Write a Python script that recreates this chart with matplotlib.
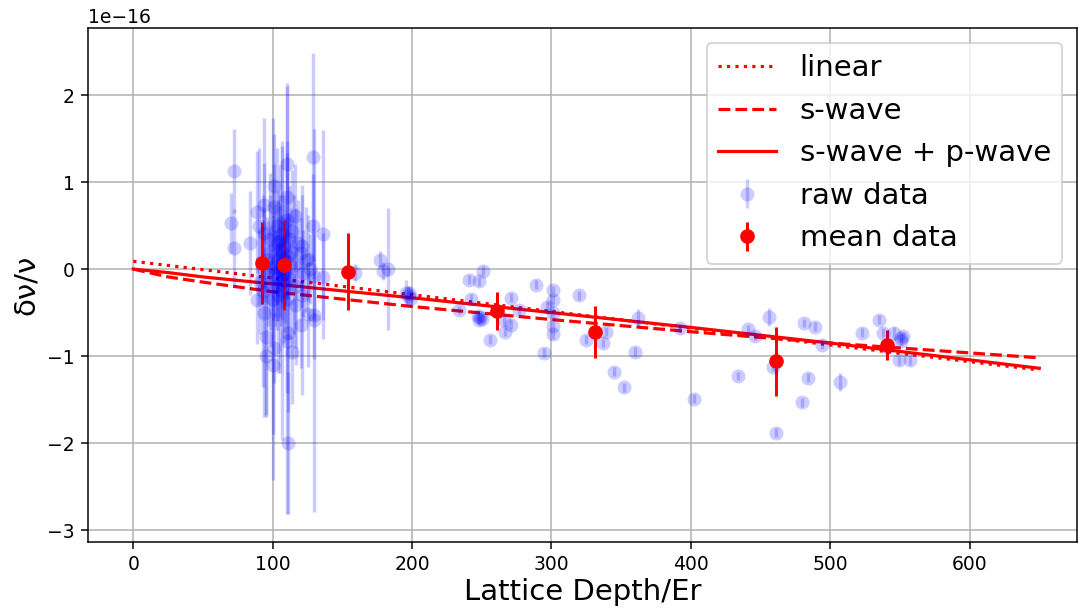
import numpy as np
import matplotlib
matplotlib.use("Agg")
import matplotlib.pyplot as plt

# raw measurements: (lattice depth / Er, shift in 1e-16, error in 1e-16)
raw_cluster = [
    (70, 0.53, 0.35), (72, 1.13, 0.48), (72, 0.24, 0.45), (84, 0.30, 0.6),
    (89, 0.66, 0.7), (89, -0.36, 0.5), (90, 0.49, 0.9), (91, -0.15, 0.6),
    (93, -0.25, 1.1), (94, 0.74, 1.0), (94, 0.42, 0.8), (94, -0.50, 1.2),
    (95, -0.78, 0.9), (95, -1.00, 0.7), (96, 0.10, 0.5), (97, -0.05, 0.6),
    (98, 0.20, 0.9), (99, -0.20, 0.7), (100, -0.34, 2.08), (100, -1.10, 0.8),
    (101, 0.95, 0.6), (101, 0.71, 0.5), (101, -0.91, 0.4), (102, 0.05, 0.7),
    (103, 0.49, 0.9), (103, -0.10, 0.5), (104, 0.30, 0.6), (104, -0.30, 0.9),
    (105, 0.15, 0.7), (105, 0.00, 1.2), (106, -0.15, 0.5), (107, 0.42, 1.0),
    (107, -0.25, 1.72), (108, 0.25, 0.6), (108, -0.05, 0.8), (109, 0.10, 0.5),
    (110, 1.21, 0.9), (110, 0.83, 0.5), (110, 0.57, 0.9), (110, -0.34, 2.48),
    (110, -0.83, 0.6), (111, -0.74, 0.9), (111, -2.00, 0.82), (112, 0.35, 0.6),
    (112, -0.10, 0.7), (113, 0.20, 0.5), (114, 0.44, 0.7), (114, -0.95, 0.6),
    (115, 0.05, 0.8), (116, 0.61, 0.6), (116, -0.41, 0.5), (117, -0.20, 0.9),
    (118, 0.30, 0.5), (120, 0.19, 0.4), (120, -0.64, 0.5), (121, 0.27, 0.7),
    (121, -0.30, 1.15), (122, -0.05, 0.5), (124, 0.11, 0.6), (125, 0.12, 0.5),
    (125, -0.52, 0.6), (127, 0.00, 0.4), (129, 1.29, 1.2), (129, 0.49, 0.6),
    (130, -0.59, 2.2), (130, -0.53, 0.5), (130, -0.08, 0.5), (136, 0.40, 1.2),
    (136, -0.09, 0.5), (100, 0.02, 0.6), (102, -0.05, 0.5), (104, 0.10, 0.7),
    (106, 0.22, 0.4), (108, -0.12, 0.6), (103, -0.20, 0.5), (105, 0.32, 0.4),
    (107, 0.05, 0.5), (109, -0.02, 0.6), (111, 0.15, 0.5), (98, 0.35, 0.5),
]
raw_tail = [
    (159, -0.04, 0.1), (177, 0.11, 0.1), (179, -0.02, 0.1), (183, 0.00, 0.7),
    (196, -0.27, 0.14), (197, -0.31, 0.1), (198, -0.28, 0.08), (199, -0.33, 0.1),
    (234, -0.47, 0.05), (241, -0.12, 0.05), (242, -0.34, 0.05), (247, -0.54, 0.05),
    (248, -0.14, 0.05), (248, -0.59, 0.05), (249, -0.55, 0.06), (250, -0.57, 0.05),
    (251, -0.02, 0.05), (256, -0.81, 0.05), (266, -0.59, 0.05), (267, -0.72, 0.05),
    (271, -0.64, 0.05), (271, -0.33, 0.05), (277, -0.47, 0.05), (289, -0.18, 0.05),
    (295, -0.96, 0.05), (297, -0.43, 0.05), (301, -0.24, 0.05), (301, -0.35, 0.05),
    (301, -0.51, 0.05), (301, -0.65, 0.05), (301, -0.75, 0.05), (320, -0.30, 0.05),
    (325, -0.81, 0.05), (337, -0.85, 0.05), (339, -0.72, 0.05), (345, -1.18, 0.05),
    (352, -1.36, 0.05), (360, -0.95, 0.05), (362, -0.56, 0.10), (392, -0.68, 0.05),
    (402, -1.49, 0.05), (434, -1.23, 0.05), (441, -0.69, 0.05), (446, -0.77, 0.05),
    (456, -0.55, 0.10), (459, -1.12, 0.05), (461, -1.88, 0.05), (480, -1.53, 0.05),
    (481, -0.62, 0.05), (484, -1.25, 0.05), (489, -0.66, 0.05), (494, -0.87, 0.05),
    (507, -1.30, 0.10), (523, -0.73, 0.05), (535, -0.58, 0.05), (538, -0.73, 0.05),
    (546, -0.74, 0.08), (549, -1.05, 0.05), (551, -0.79, 0.05), (551, -0.83, 0.05),
    (552, -0.77, 0.05), (557, -1.05, 0.05), (541, -0.90, 0.05),
]

# binned means
mean_x = [92, 108, 154, 261, 331, 461, 541]
mean_y = [0.07, 0.05, -0.03, -0.48, -0.72, -1.06, -0.87]
mean_err = [0.47, 0.52, 0.44, 0.22, 0.30, 0.40, 0.17]

# fit curves
fit_x = [0, 25, 50, 100, 200, 300, 400, 500, 650]
s_wave = [0.0, -0.09, -0.15, -0.26, -0.43, -0.58, -0.72, -0.85, -1.02]
sp_wave = [0.0, -0.04, -0.09, -0.17, -0.33, -0.50, -0.67, -0.85, -1.14]
lin_x = [0, 650]
lin_y = [0.09, -1.16]

scale = 1e-16
raw = np.array(raw_cluster + raw_tail)
raw_x, raw_y, raw_err = raw[:, 0], raw[:, 1] * scale, raw[:, 2] * scale

dpi = 135
fig = plt.figure(figsize=(1078 / dpi, 612 / dpi), dpi=dpi)
ax = fig.add_axes([0.0816, 0.114, 0.9174, 0.840])

ax.plot(lin_x, np.array(lin_y) * scale, ':', color='red', lw=1.7, label='linear')
ax.plot(fit_x, np.array(s_wave) * scale, '--', color='red', lw=1.7, label='s-wave')
ax.plot(fit_x, np.array(sp_wave) * scale, '-', color='red', lw=1.7,
        label='s-wave + p-wave')

ax.errorbar(raw_x, raw_y, yerr=raw_err, fmt='o', color='blue', alpha=0.2,
            markersize=7.5, mew=0, elinewidth=1.8, capsize=0, label='raw data')
ax.errorbar(mean_x, np.array(mean_y) * scale, yerr=np.array(mean_err) * scale,
            fmt='o', color='red', markersize=7.8, mew=0, elinewidth=1.6,
            capsize=0, label='mean data')

ax.set_xlim(-32.5, 677)
ax.set_ylim(-3.14e-16, 2.77e-16)
ax.grid(True)
ax.set_xlabel('Lattice Depth/Er', fontsize=15.5, labelpad=2)
ax.set_ylabel('δν/ν', fontsize=15.5)
ax.legend(loc='upper right', fontsize=15.5)

fig.savefig('out.png', dpi=dpi)
